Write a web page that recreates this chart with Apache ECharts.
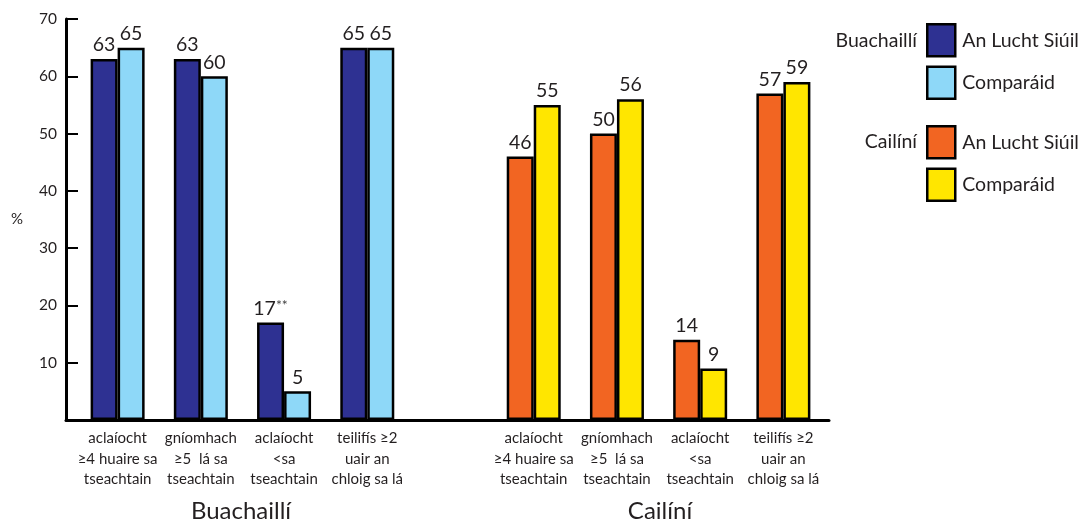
<!DOCTYPE html>
<html>
<head>
<meta charset="utf-8">
<script src="https://cdn.jsdelivr.net/npm/echarts@6/dist/echarts.min.js"></script>
<style>
  html, body { margin: 0; padding: 0; background: #fff; }
  #chart { width: 1089px; height: 524px; }
</style>
</head>
<body>
<div id="chart"></div>
<script>
// ---- data ----
const activityLabels = [
  'aclaíocht\n≥4 huaire sa\ntseachtain',
  'gníomhach\n≥5  lá sa\ntseachtain',
  'aclaíocht\n<sa\ntseachtain',
  'teilifís ≥2\nuair an\nchloig sa lá'
];
const groupNames = ['Buachaillí', 'Cailíní'];
const seriesKinds = ['An Lucht Siúil', 'Comparáid'];
const boysTravellers = [63, 63, 17, 65];
const boysComparison = [65, 60, 5, 65];
const girlsTravellers = [46, 50, 14, 57];
const girlsComparison = [55, 56, 9, 59];
const boysTravellerNotes = ['', '', '**', ''];
const yTicks = [10, 20, 30, 40, 50, 60, 70];

// ---- build ----
const FONT = 'Lato';
const TXT = '#231f20';
const categories = [...activityLabels, '', ...activityLabels];
const blank = activityLabels.map(() => '-');
const boysTSData = [...boysTravellers, '-', ...blank];
const boysCData = [...boysComparison, '-', ...blank];
const girlsTSData = [...blank, '-', ...girlsTravellers];
const girlsCData = [...blank, '-', ...girlsComparison];
const notesFull = [...boysTravellerNotes, '', ...activityLabels.map(() => '')];

function barSeries(name, data, color, stack, notes) {
  return {
    type: 'bar',
    name: name,
    data: data,
    stack: stack,
    xAxisIndex: 0,
    yAxisIndex: 0,
    barWidth: 27,
    barGap: '0%',
    itemStyle: { color: color, borderColor: '#000', borderWidth: 2.5 },
    label: {
      show: true,
      position: 'top',
      distance: 4,
      fontFamily: FONT,
      fontSize: 19.5,
      color: TXT,
      formatter: function (p) {
        const n = notes ? notes[p.dataIndex] : '';
        return n ? '{v|' + p.value + '}{s|' + n + '}' : '{v|' + p.value + '}';
      },
      rich: {
        v: { fontFamily: FONT, fontSize: 19.5, color: TXT },
        s: { fontFamily: FONT, fontSize: 14, color: '#444', verticalAlign: 'top', padding: [0, 0, 6, 0] }
      }
    },
    emphasis: { disabled: true },
    animation: false
  };
}

const nameB1 = seriesKinds[0] + ' (' + groupNames[0] + ')';
const nameB2 = seriesKinds[1] + ' (' + groupNames[0] + ')';
const nameG1 = seriesKinds[0] + ' (' + groupNames[1] + ')';
const nameG2 = seriesKinds[1] + ' (' + groupNames[1] + ')';

const legendCommon = {
  orient: 'vertical',
  left: 926,
  padding: 0,
  itemWidth: 28,
  itemHeight: 32,
  itemGap: 8,
  icon: 'rect',
  selectedMode: false,
  itemStyle: { borderColor: '#000', borderWidth: 2.5 },
  textStyle: { fontFamily: FONT, fontSize: 19.5, color: TXT, padding: [0, 0, 0, 2] },
  formatter: function (name) { return name.split(' (')[0]; }
};

const option = {
  animation: false,
  textStyle: { fontFamily: FONT },
  grid: [
    { left: 76, right: 264, top: 19, bottom: 104 },
    { left: 66, right: 260, top: 19, bottom: 104 }
  ],
  xAxis: [
    {
      type: 'category', gridIndex: 0, data: categories,
      axisLine: { show: false }, axisTick: { show: false },
      axisLabel: { interval: 0, margin: 8, fontFamily: FONT, fontSize: 15, lineHeight: 20.5, color: TXT }
    },
    {
      type: 'value', gridIndex: 1, min: 0, max: 1,
      axisLine: { show: true, onZero: false, lineStyle: { color: '#000', width: 3 } },
      axisTick: { show: false }, axisLabel: { show: false }, splitLine: { show: false }
    }
  ],
  yAxis: [
    { type: 'value', gridIndex: 0, min: 0, max: 70, interval: 10, show: false },
    {
      type: 'value', gridIndex: 1, min: 0, max: 70, interval: 10,
      name: '%', nameLocation: 'middle', nameRotate: 0, nameGap: 43,
      nameTextStyle: { fontFamily: FONT, fontSize: 15, color: TXT, padding: [8, 0, 0, 0] },
      axisLine: { show: true, lineStyle: { color: '#000', width: 3 } },
      axisTick: { show: true, inside: true, length: 12, lineStyle: { color: '#000', width: 2 } },
      axisLabel: {
        margin: 9, fontFamily: FONT, fontSize: 15.5, color: TXT,
        formatter: function (v) { return yTicks.indexOf(v) >= 0 ? String(v) : ''; }
      },
      splitLine: { show: false }
    }
  ],
  legend: [
    Object.assign({}, legendCommon, { top: 23, data: [nameB1, nameB2] }),
    Object.assign({}, legendCommon, { top: 125, data: [nameG1, nameG2] })
  ],
  graphic: [
    { type: 'text', x: 917, y: 41, style: { text: groupNames[0], font: '19.5px ' + FONT, fill: TXT, align: 'right', verticalAlign: 'middle' } },
    { type: 'text', x: 917, y: 142, style: { text: groupNames[1], font: '19.5px ' + FONT, fill: TXT, align: 'right', verticalAlign: 'middle' } },
    { type: 'text', x: 241, y: 511, style: { text: groupNames[0], font: '24px ' + FONT, fill: TXT, align: 'center', verticalAlign: 'middle' } },
    { type: 'text', x: 660, y: 511, style: { text: groupNames[1], font: '24px ' + FONT, fill: TXT, align: 'center', verticalAlign: 'middle' } }
  ],
  series: [
    barSeries(nameB1, boysTSData, '#2e3192', 'ts', notesFull),
    barSeries(nameB2, boysCData, '#8ed8f8', 'cmp', null),
    barSeries(nameG1, girlsTSData, '#f26522', 'ts', null),
    barSeries(nameG2, girlsCData, '#ffe600', 'cmp', null)
  ]
};

const chart = echarts.init(document.getElementById('chart'), null, { renderer: 'canvas' });
chart.setOption(option);
</script>
</body>
</html>
